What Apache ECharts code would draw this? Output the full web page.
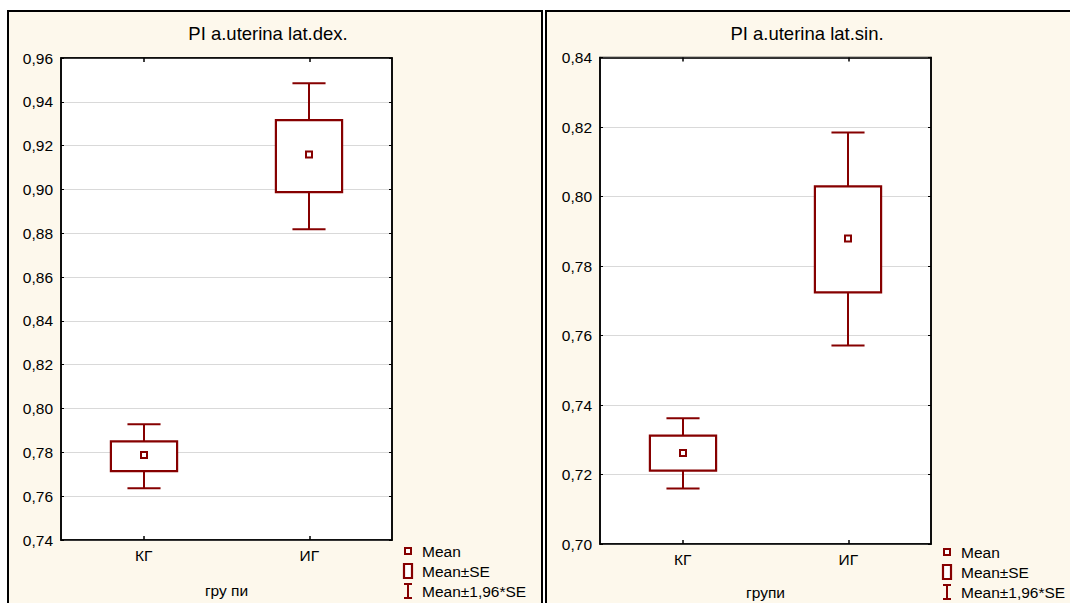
<!DOCTYPE html>
<html>
<head>
<meta charset="utf-8">
<script src="https://cdn.jsdelivr.net/npm/echarts@6/dist/echarts.min.js"></script>
<style>
  html, body { margin: 0; padding: 0; background: #ffffff; }
  #chart { width: 1070px; height: 603px; }
</style>
</head>
<body>
<div id="chart"></div>
<script>
// Groups on the category axis
const categories = ['КГ', 'ИГ'];

// PI a.uterina lat.dex.
const dexMean   = [0.7788, 0.9159];
const dexSeLow  = [0.7714, 0.8988];
const dexSeHigh = [0.7850, 0.9316];
const dexCiLow  = [0.7636, 0.8818];
const dexCiHigh = [0.7928, 0.9485];

// PI a.uterina lat.sin.
const sinMean   = [0.7262, 0.7879];
const sinSeLow  = [0.7211, 0.7724];
const sinSeHigh = [0.7312, 0.8029];
const sinCiLow  = [0.7160, 0.7571];
const sinCiHigh = [0.7362, 0.8184];

// Value axis ranges: [min, max, step]
const dexAxis = [0.74, 0.96, 0.02];
const sinAxis = [0.70, 0.84, 0.02];

const titles = ['PI a.uterina lat.dex.', 'PI a.uterina lat.sin.'];
const axisNames = ['гру пи', 'групи'];
const legendLabels = ['Mean', 'Mean±SE', 'Mean±1,96*SE'];

const RED = '#860000';
const CREAM = '#fdf8ec';
const FONT = '"Liberation Sans", Arial, sans-serif';

// Plot rectangles of the two panels
const grids = [
  { left: 61, top: 58, width: 331, height: 482 },
  { left: 600, top: 57.5, width: 331, height: 486.5 }
];
const nameGaps = [42, 40];
const titleCenters = [268, 807];
const legendTop = [551, 552];

function rows(lo, seLo, mean, seHi, hi) {
  return categories.map((c, i) => [i, lo[i], seLo[i], mean[i], seHi[i], hi[i]]);
}

// Draws whiskers (±1.96·SE), the ±SE box and the mean marker for one group
function renderBox(params, api) {
  const x = api.value(0);
  const ciLo = api.coord([x, api.value(1)]);
  const seLo = api.coord([x, api.value(2)]);
  const mean = api.coord([x, api.value(3)]);
  const seHi = api.coord([x, api.value(4)]);
  const ciHi = api.coord([x, api.value(5)]);
  const band = api.size([1, 0])[0];
  const bw = band * 0.4;
  const cw = band * 0.2;
  const cx = Math.round(mean[0]);
  const line = { stroke: RED, lineWidth: 2, fill: null };
  return {
    type: 'group',
    children: [
      { type: 'line', shape: { x1: cx, y1: ciHi[1], x2: cx, y2: seHi[1] }, style: line },
      { type: 'line', shape: { x1: cx, y1: seLo[1], x2: cx, y2: ciLo[1] }, style: line },
      { type: 'line', shape: { x1: cx - cw / 2, y1: ciHi[1], x2: cx + cw / 2, y2: ciHi[1] }, style: line },
      { type: 'line', shape: { x1: cx - cw / 2, y1: ciLo[1], x2: cx + cw / 2, y2: ciLo[1] }, style: line },
      { type: 'rect', shape: { x: cx - bw / 2, y: seHi[1], width: bw, height: seLo[1] - seHi[1] },
        style: { stroke: RED, lineWidth: 2.2, fill: '#ffffff' } },
      { type: 'rect', shape: { x: cx - 3, y: mean[1] - 3, width: 6, height: 6 },
        style: { stroke: RED, lineWidth: 2, fill: '#ffffff' } }
    ]
  };
}

const tickFmt = v => v.toFixed(2).replace('.', ',');

function xAxes(gi) {
  return [
    {
      gridIndex: gi, type: 'category', data: categories, position: 'bottom',
      boundaryGap: true,
      axisLine: { show: true, lineStyle: { color: '#000', width: 1.5 } },
      axisTick: { show: true, inside: true, alignWithLabel: true, length: 4, lineStyle: { color: '#000', width: 1.5 } },
      axisLabel: { fontFamily: FONT, fontSize: 15.5, color: '#000', margin: 7 },
      splitLine: { show: false },
      name: axisNames[gi], nameLocation: 'middle', nameGap: nameGaps[gi],
      nameTextStyle: { fontFamily: FONT, fontSize: 15.5, color: '#000' }
    },
    {
      gridIndex: gi, type: 'category', data: categories, position: 'top',
      boundaryGap: true,
      axisLine: { show: true, lineStyle: { color: '#000', width: 1.5 } },
      axisTick: { show: true, inside: true, alignWithLabel: true, length: 4, lineStyle: { color: '#000', width: 1.5 } },
      axisLabel: { show: false },
      splitLine: { show: false }
    }
  ];
}

function yAxes(gi, rng) {
  return [
    {
      gridIndex: gi, type: 'value', position: 'left',
      min: rng[0], max: rng[1], interval: rng[2],
      axisLine: { show: true, lineStyle: { color: '#000', width: 1.5 } },
      axisTick: { show: true, inside: true, length: 3, lineStyle: { color: '#000' } },
      axisLabel: { fontFamily: FONT, fontSize: 15.5, color: '#000', margin: 8, formatter: tickFmt },
      splitLine: { show: true, lineStyle: { color: '#d9d9d9', width: 1 } }
    },
    {
      gridIndex: gi, type: 'value', position: 'right',
      min: rng[0], max: rng[1], interval: rng[2],
      axisLine: { show: true, lineStyle: { color: '#000', width: 1.5 } },
      axisTick: { show: true, inside: true, length: 3, lineStyle: { color: '#000' } },
      axisLabel: { show: false },
      splitLine: { show: false }
    }
  ];
}

// Panel frames, titles and legend keys
const graphics = [
  { type: 'rect', z: -10, shape: { x: 8, y: 11, width: 534, height: 640 },
    style: { fill: CREAM, stroke: '#000', lineWidth: 2 } },
  { type: 'rect', z: -10, shape: { x: 546, y: 11, width: 560, height: 640 },
    style: { fill: CREAM, stroke: '#000', lineWidth: 2 } }
];

grids.forEach((g, gi) => {
  graphics.push({
    type: 'text', z: 5,
    style: { text: titles[gi], x: titleCenters[gi], y: 33, textAlign: 'center', textVerticalAlign: 'middle',
             font: '18.5px ' + FONT, fill: '#000' }
  });
  const ix = g.left + g.width + 16;
  const tx = g.left + g.width + 30;
  const y0 = legendTop[gi];
  const rowY = [y0, y0 + 20, y0 + 40];
  graphics.push(
    { type: 'rect', z: 5, shape: { x: ix - 3, y: rowY[0] - 3, width: 6, height: 6 },
      style: { stroke: RED, lineWidth: 2, fill: '#fff' } },
    { type: 'rect', z: 5, shape: { x: ix - 4, y: rowY[1] - 7, width: 8, height: 14 },
      style: { stroke: RED, lineWidth: 2.2, fill: '#fff' } },
    { type: 'line', z: 5, shape: { x1: ix, y1: rowY[2] - 7, x2: ix, y2: rowY[2] + 7 },
      style: { stroke: RED, lineWidth: 2 } },
    { type: 'line', z: 5, shape: { x1: ix - 4, y1: rowY[2] - 7, x2: ix + 4, y2: rowY[2] - 7 },
      style: { stroke: RED, lineWidth: 2 } },
    { type: 'line', z: 5, shape: { x1: ix - 4, y1: rowY[2] + 7, x2: ix + 4, y2: rowY[2] + 7 },
      style: { stroke: RED, lineWidth: 2 } }
  );
  legendLabels.forEach((t, k) => {
    graphics.push({
      type: 'text', z: 5,
      style: { text: t, x: tx, y: rowY[k], textAlign: 'left', textVerticalAlign: 'middle',
               font: '15.5px ' + FONT, fill: '#000' }
    });
  });
});

const option = {
  animation: false,
  backgroundColor: 'transparent',
  grid: grids.map(g => Object.assign({
    show: true, backgroundColor: '#ffffff', borderColor: '#000', borderWidth: 1.5,
    containLabel: false, outerBoundsMode: 'none'
  }, g)),
  xAxis: [...xAxes(0), ...xAxes(1)],
  yAxis: [...yAxes(0, dexAxis), ...yAxes(1, sinAxis)],
  graphic: graphics,
  series: [
    {
      type: 'custom', xAxisIndex: 0, yAxisIndex: 0, renderItem: renderBox,
      encode: { x: 0, y: [1, 2, 3, 4, 5] }, z: 3,
      data: rows(dexCiLow, dexSeLow, dexMean, dexSeHigh, dexCiHigh)
    },
    {
      type: 'custom', xAxisIndex: 2, yAxisIndex: 2, renderItem: renderBox,
      encode: { x: 0, y: [1, 2, 3, 4, 5] }, z: 3,
      data: rows(sinCiLow, sinSeLow, sinMean, sinSeHigh, sinCiHigh)
    }
  ]
};

const chart = echarts.init(document.getElementById('chart'), null, { renderer: 'svg' });
chart.setOption(option);
</script>
</body>
</html>
